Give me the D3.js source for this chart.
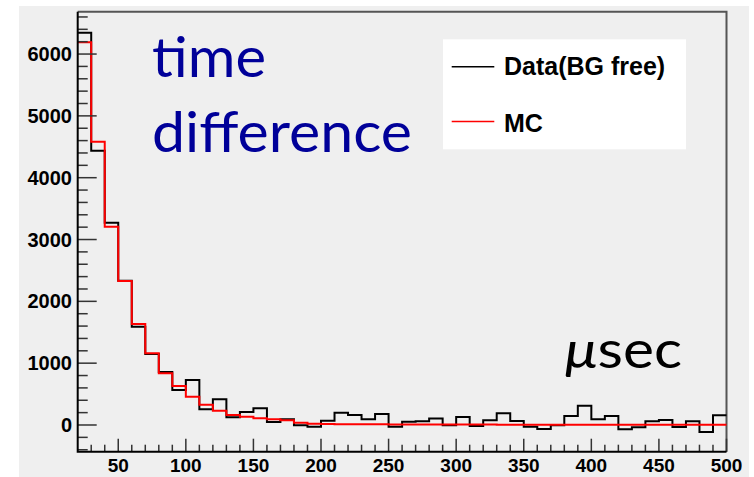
<!DOCTYPE html>
<html><head><meta charset="utf-8">
<script src="https://cdn.jsdelivr.net/npm/d3@7"></script>
<style>html,body{margin:0;padding:0;background:#fff;}</style>
</head><body>
<script>
const binEdges = d3.range(20, 500, 10);
const dataValues = [6345,4436,3272,2334,1590,1148,857,566,728,254,416,125,210,270,48,92,-5,-27,70,200,162,92,178,-27,54,59,103,-5,130,-16,75,189,65,-27,-65,-5,146,313,92,146,-70,-38,59,81,-32,59,-113,157];
const mcValues = [6190,4582,3207,2330,1633,1160,836,631,458,328,231,162,134,108,92,75,38,21,16,14,12,11,10,9,8,8,7,7,6,6,6,5,5,5,5,4,4,4,4,4,4,3,3,3,3,3,3,3];
const xTicks = [50,100,150,200,250,300,350,400,450,500];
const yTicks = [0,1000,2000,3000,4000,5000,6000];
const legendLabels = ["Data(BG free)", "MC"];

const W = 754, H = 477;
const L = 77.7, R = 726.5, T = 11.7, B = 451.7;
const svg = d3.select("body").append("svg").attr("width", W).attr("height", H);
svg.append("rect").attr("x", 19).attr("y", 6).attr("width", 730).attr("height", 471).attr("fill", "#efefef");

const x = d3.scaleLinear().domain([20, 500]).range([L, R]);
const y = d3.scaleLinear().domain([-432, 6685]).range([B, T]);

// frame top/right
svg.append("path").attr("d", `M${L},${T}H${R}V${B}`).attr("fill", "none").attr("stroke", "#555").attr("stroke-width", 2);

// histograms
function stepPts(vals){ const p = binEdges.map((e,i)=>[e, vals[i]]); p.push([500, vals[vals.length-1]]); return p; }
const line = d3.line().x(d=>x(d[0])).y(d=>y(d[1])).curve(d3.curveStepAfter);
svg.append("path").attr("d", line(stepPts(dataValues))).attr("fill","none").attr("stroke","#000").attr("stroke-width",2);
svg.append("path").attr("d", line(stepPts(mcValues))).attr("fill","none").attr("stroke","#ff0000").attr("stroke-width",2);

// axes
const tickCol = "#333";
const yMinor = d3.range(-400, 6700, 200).filter(v=>v%1000!==0);
svg.selectAll(".ym").data(yMinor).enter().append("line").attr("x1",L).attr("x2",L+10).attr("y1",d=>y(d)).attr("y2",d=>y(d)).attr("stroke",tickCol).attr("stroke-width",1.5);
svg.selectAll(".yM").data(yTicks).enter().append("line").attr("x1",L).attr("x2",L+19).attr("y1",d=>y(d)).attr("y2",d=>y(d)).attr("stroke",tickCol).attr("stroke-width",1.5);
svg.selectAll(".yl").data(yTicks).enter().append("text").attr("x",72).attr("y",d=>y(d)+7).attr("text-anchor","end")
  .attr("font-family","Liberation Sans, Arial, sans-serif").attr("font-weight","bold").attr("font-size",20).text(d=>d);
const xMinor = d3.range(30, 500, 10).filter(v=>v%50!==0);
svg.selectAll(".xm").data(xMinor).enter().append("line").attr("x1",d=>x(d)).attr("x2",d=>x(d)).attr("y1",B).attr("y2",B-7).attr("stroke",tickCol).attr("stroke-width",1.5);
svg.selectAll(".xM").data(xTicks).enter().append("line").attr("x1",d=>x(d)).attr("x2",d=>x(d)).attr("y1",B).attr("y2",B-13).attr("stroke",tickCol).attr("stroke-width",1.5);
svg.selectAll(".xl").data(xTicks).enter().append("text").attr("x",d=>x(d)).attr("y",472).attr("text-anchor","middle")
  .attr("font-family","Liberation Sans, Arial, sans-serif").attr("font-weight","bold").attr("font-size",19).text(d=>d);
svg.append("path").attr("d", `M${L},${T}V${B}H${R}`).attr("fill","none").attr("stroke","#000").attr("stroke-width",2);

// legend
svg.append("rect").attr("x",443).attr("y",39.3).attr("width",243).attr("height",110).attr("fill","#fff");
const legCols = ["#000", "#ff0000"];
const legY = [66.7, 121.5];
const legBase = [75, 131.7];
legendLabels.forEach((t,i)=>{
  svg.append("line").attr("x1",451.7).attr("x2",494.3).attr("y1",legY[i]).attr("y2",legY[i]).attr("stroke",legCols[i]).attr("stroke-width",1.5);
  svg.append("text").attr("x",504).attr("y",legBase[i]).attr("font-family","Liberation Sans, Arial, sans-serif")
    .attr("font-weight","bold").attr("font-size",25).text(t);
});

// annotations
svg.append("text").attr("x",152).attr("y",77.3).attr("fill","#000099").attr("font-family","Lato, sans-serif").attr("font-size",57)
  .attr("textLength",114).attr("lengthAdjust","spacingAndGlyphs").text("time");
svg.append("text").attr("x",152).attr("y",151.7).attr("fill","#000099").attr("font-family","Lato, sans-serif").attr("font-size",57)
  .attr("textLength",260).attr("lengthAdjust","spacingAndGlyphs").text("difference");
const us = svg.append("text").attr("x",565).attr("y",367.7).attr("fill","#000").attr("font-family","Lato, sans-serif").attr("font-size",52)
  .attr("textLength",117).attr("lengthAdjust","spacingAndGlyphs");
us.append("tspan").attr("font-style","italic").text("μ");
us.append("tspan").text("sec");
</script>
</body></html>
